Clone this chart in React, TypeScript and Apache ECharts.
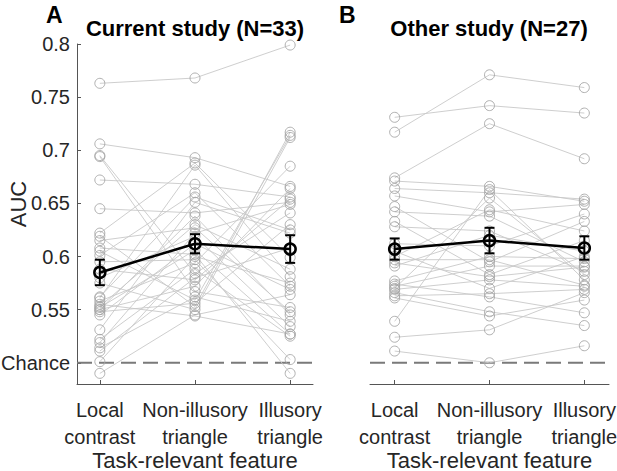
import React, { useEffect, useRef } from "react";
import * as echarts from "echarts";

const categories = ["Local\ncontrast", "Non-illusory\ntriangle", "Illusory\ntriangle"];
const xAxisTitle = "Task-relevant feature";
const yTicks = [0.5, 0.55, 0.6, 0.65, 0.7, 0.75, 0.8];
const chanceLevel = 0.5;

// Current study (N=33), one entry per subject
const currentLocal = [0.763, 0.706, 0.695, 0.694, 0.672, 0.645, 0.622, 0.619, 0.615, 0.608, 0.605, 0.601, 0.595, 0.588, 0.580, 0.575, 0.562, 0.561, 0.558, 0.555, 0.553, 0.552, 0.550, 0.550, 0.548, 0.545, 0.531, 0.522, 0.519, 0.514, 0.511, 0.501, 0.490];
const currentNonIllusory = [0.768, 0.693, 0.584, 0.567, 0.668, 0.641, 0.688, 0.553, 0.627, 0.602, 0.559, 0.660, 0.597, 0.578, 0.619, 0.550, 0.656, 0.686, 0.594, 0.544, 0.630, 0.606, 0.572, 0.638, 0.556, 0.612, 0.651, 0.588, 0.622, 0.562, 0.580, 0.600, 0.545];
const currentIllusory = [0.799, 0.666, 0.641, 0.552, 0.656, 0.651, 0.599, 0.717, 0.548, 0.490, 0.714, 0.572, 0.503, 0.654, 0.534, 0.712, 0.625, 0.581, 0.685, 0.527, 0.588, 0.527, 0.664, 0.545, 0.630, 0.569, 0.622, 0.525, 0.649, 0.539, 0.608, 0.575, 0.564];
const currentMean = [0.585, 0.612, 0.607];
const currentSem = [0.012, 0.009, 0.013];

// Other study (N=27)
const otherLocal = [0.731, 0.717, 0.674, 0.671, 0.664, 0.657, 0.647, 0.642, 0.633, 0.628, 0.612, 0.605, 0.600, 0.597, 0.594, 0.591, 0.577, 0.574, 0.572, 0.570, 0.569, 0.566, 0.563, 0.561, 0.539, 0.524, 0.511];
const otherNonIllusory = [0.742, 0.771, 0.725, 0.666, 0.660, 0.642, 0.595, 0.638, 0.583, 0.624, 0.610, 0.570, 0.644, 0.597, 0.581, 0.620, 0.600, 0.562, 0.591, 0.655, 0.578, 0.548, 0.565, 0.544, 0.663, 0.531, 0.500];
const otherIllusory = [0.735, 0.759, 0.692, 0.652, 0.654, 0.649, 0.633, 0.595, 0.615, 0.586, 0.640, 0.600, 0.624, 0.573, 0.590, 0.605, 0.598, 0.547, 0.591, 0.583, 0.572, 0.535, 0.569, 0.559, 0.578, 0.566, 0.516];
const otherMean = [0.607, 0.615, 0.608];
const otherSem = [0.010, 0.012, 0.011];

const FONT = "'Liberation Sans', Arial, Helvetica, sans-serif";
const TEXT = "#262626";

function subjectSeries(a: number[], b: number[], c: number[], idx: number) {
  return a.map((v, i) => ({
    type: "line",
    xAxisIndex: idx,
    yAxisIndex: idx,
    data: [[1, v], [2, b[i]], [3, c[i]]],
    symbol: "circle",
    symbolSize: 10,
    showSymbol: true,
    silent: true,
    z: 2,
    itemStyle: { color: "rgba(0,0,0,0)", borderColor: "#a6a6a6", borderWidth: 0.9 },
    lineStyle: { color: "#c8c8c8", width: 0.9 },
    emphasis: { disabled: true },
  }));
}

function meanSeries(mean: number[], idx: number) {
  return {
    type: "line",
    xAxisIndex: idx,
    yAxisIndex: idx,
    data: mean.map((m, i) => [i + 1, m]),
    symbol: "circle",
    symbolSize: 11,
    silent: true,
    z: 10,
    itemStyle: { color: "rgba(0,0,0,0)", borderColor: "#000", borderWidth: 2.5 },
    lineStyle: { color: "#000", width: 2.5 },
    emphasis: { disabled: true },
  };
}

function errorSeries(mean: number[], sem: number[], idx: number) {
  return {
    type: "custom",
    xAxisIndex: idx,
    yAxisIndex: idx,
    silent: true,
    z: 11,
    data: mean.map((m, i) => [i + 1, m - sem[i], m + sem[i]]),
    encode: { x: 0, y: [1, 2] },
    renderItem: (params: any, api: any) => {
      const x = api.value(0);
      const lo = api.coord([x, api.value(1)]);
      const hi = api.coord([x, api.value(2)]);
      const cap = 5;
      const style = { stroke: "#000", lineWidth: 2 };
      return {
        type: "group",
        children: [
          { type: "line", shape: { x1: lo[0], y1: lo[1], x2: hi[0], y2: hi[1] }, style },
          { type: "line", shape: { x1: lo[0] - cap, y1: lo[1], x2: lo[0] + cap, y2: lo[1] }, style },
          { type: "line", shape: { x1: hi[0] - cap, y1: hi[1], x2: hi[0] + cap, y2: hi[1] }, style },
        ],
      };
    },
  };
}

function chanceSeries(xmin: number, xmax: number, idx: number) {
  return {
    type: "line",
    xAxisIndex: idx,
    yAxisIndex: idx,
    data: [[xmin, chanceLevel], [xmax, chanceLevel]],
    symbol: "none",
    silent: true,
    z: 1,
    lineStyle: { color: "#7a7a7a", width: 2, type: [15, 7] },
    emphasis: { disabled: true },
  };
}

function xAxis(idx: number, min: number, max: number) {
  return {
    type: "value",
    gridIndex: idx,
    min,
    max,
    axisLine: { show: true, lineStyle: { color: "#555", width: 1 } },
    axisTick: { show: true, inside: true, length: 4, customValues: [1, 2, 3], lineStyle: { color: "#555" } },
    axisLabel: {
      customValues: [1, 2, 3],
      formatter: (v: number) => categories[Math.round(v) - 1] || "",
      fontFamily: FONT,
      fontSize: 20,
      color: TEXT,
      lineHeight: 27,
      margin: 12,
    },
    splitLine: { show: false },
  };
}

function yAxis(idx: number, visible: boolean) {
  return {
    type: "value",
    gridIndex: idx,
    min: 0.48,
    max: 0.8,
    axisLine: { show: visible, lineStyle: { color: "#555", width: 1 } },
    axisTick: { show: visible, inside: true, length: 4, customValues: yTicks, lineStyle: { color: "#555" } },
    axisLabel: {
      show: visible,
      customValues: yTicks,
      formatter: (v: number) => (Math.abs(v - chanceLevel) < 1e-6 ? "Chance" : String(Number(v.toFixed(2)))),
      fontFamily: FONT,
      fontSize: 20,
      color: TEXT,
      margin: 7,
    },
    splitLine: { show: false },
  };
}

export default function App() {
  const ref = useRef<HTMLDivElement>(null);
  useEffect(() => {
    if (!ref.current) return;
    const chart = echarts.init(ref.current, null, { renderer: "svg" });
    chart.setOption({
      animation: false,
      backgroundColor: "#fff",
      grid: [
        { left: 77, top: 44, width: 236, height: 340, outerBoundsMode: "none", containLabel: false },
        { left: 370, top: 44, width: 239, height: 340, outerBoundsMode: "none", containLabel: false },
      ],
      xAxis: [xAxis(0, 0.76, 3.24), xAxis(1, 0.74, 3.26)],
      yAxis: [yAxis(0, true), yAxis(1, false)],
      graphic: [
        { type: "text", left: 46, top: 3, style: { text: "A", fontFamily: FONT, fontSize: 23, fontWeight: "bold", fill: "#000" } },
        { type: "text", left: 339, top: 3, style: { text: "B", fontFamily: FONT, fontSize: 23, fontWeight: "bold", fill: "#000" } },
        { type: "text", x: 195, y: 28, style: { text: "Current study (N=33)", fontFamily: FONT, fontSize: 22, fontWeight: "bold", fill: "#000", align: "center", verticalAlign: "middle" } },
        { type: "text", x: 489, y: 28, style: { text: "Other study (N=27)", fontFamily: FONT, fontSize: 22, fontWeight: "bold", fill: "#000", align: "center", verticalAlign: "middle" } },
        { type: "text", x: 18, y: 204, rotation: Math.PI / 2, style: { text: "AUC", fontFamily: FONT, fontSize: 22, fill: TEXT, align: "center", verticalAlign: "middle" } },
        { type: "text", x: 195, y: 460, style: { text: xAxisTitle, fontFamily: FONT, fontSize: 22, fill: TEXT, align: "center", verticalAlign: "middle" } },
        { type: "text", x: 489.5, y: 460, style: { text: xAxisTitle, fontFamily: FONT, fontSize: 22, fill: TEXT, align: "center", verticalAlign: "middle" } },
      ],
      series: [
        chanceSeries(0.76, 3.24, 0),
        chanceSeries(0.74, 3.26, 1),
        ...subjectSeries(currentLocal, currentNonIllusory, currentIllusory, 0),
        ...subjectSeries(otherLocal, otherNonIllusory, otherIllusory, 1),
        meanSeries(currentMean, 0),
        meanSeries(otherMean, 1),
        errorSeries(currentMean, currentSem, 0),
        errorSeries(otherMean, otherSem, 1),
      ],
    });
    return () => chart.dispose();
  }, []);
  return <div ref={ref} style={{ position: "absolute", left: 0, top: 0, width: 617, height: 471 }} />;
}
